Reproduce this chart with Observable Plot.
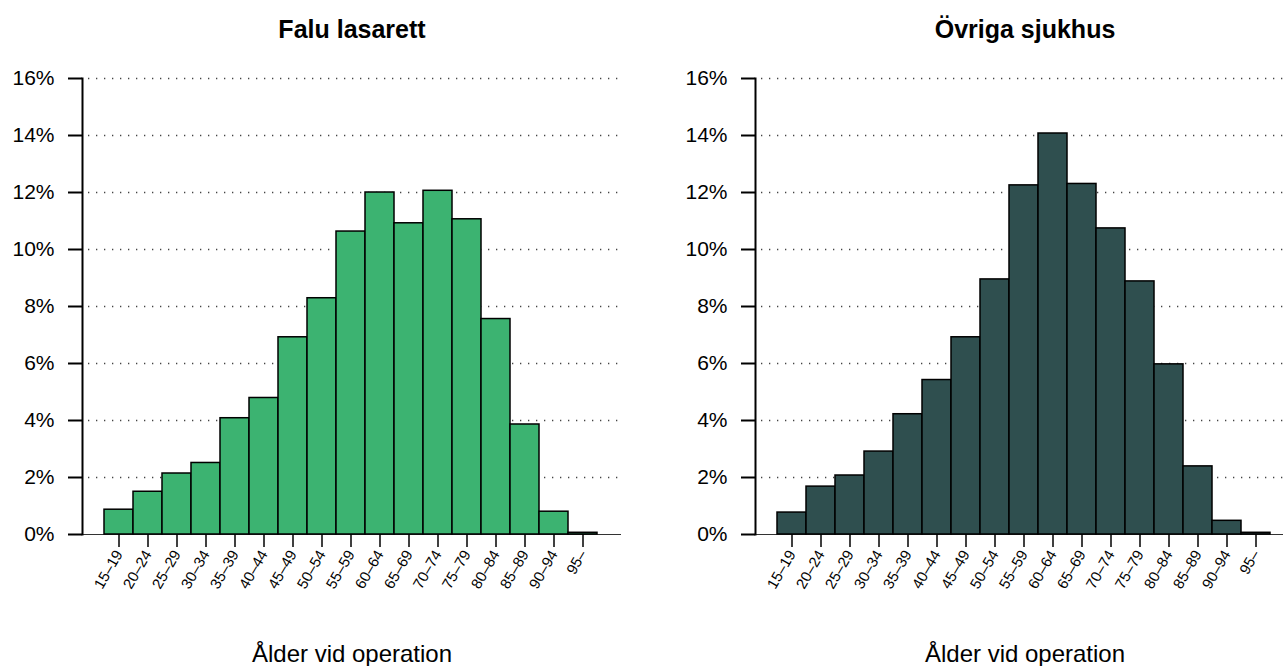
<!DOCTYPE html>
<html><head><meta charset="utf-8">
<script src="https://cdn.jsdelivr.net/npm/d3@7"></script>
<script src="https://cdn.jsdelivr.net/npm/@observablehq/plot@0.6"></script>
<style>
body{margin:0;background:#fff}
#c{position:relative;width:1283px;height:666px;overflow:hidden;background:#fff}
#c > svg{position:absolute;top:0}
</style>
</head><body><div id="c"></div>
<script>
const categories = ["15–19","20–24","25–29","30–34","35–39","40–44","45–49","50–54","55–59","60–64","65–69","70–74","75–79","80–84","85–89","90–94","95–"];
const faluValues = [0.87,1.50,2.14,2.51,4.08,4.79,6.92,8.29,10.63,12.00,10.92,12.06,11.06,7.56,3.86,0.80,0.06];
const ovrigaValues = [0.77,1.68,2.07,2.91,4.22,5.42,6.92,8.95,12.25,14.07,12.30,10.74,8.88,5.97,2.39,0.48,0.06];
const yTicks = [0,2,4,6,8,10,12,14,16];
const panelTitles = ["Falu lasarett","Övriga sjukhus"];
const xLabel = "Ålder vid operation";
const panelColors = ["#3cb371","#2f4f4f"];

function panel(values, title, color) {
  const data = categories.map((c,i)=>({age:c, pct: values[i]}));
  const svg = Plot.plot({
    width: 673, height: 666,
    marginLeft: 82, marginRight: 52, marginTop: 78, marginBottom: 132,
    style: {fontFamily: "'Liberation Sans', Arial, sans-serif", background: "white", overflow: "visible", maxWidth: "none"},
    x: {type: "band", domain: categories, range: [101.7, 600.3], padding: 0},
    y: {domain: [0,16]},
    marks: [
      Plot.ruleY(yTicks.slice(1), {stroke: "#444", strokeWidth: 1.3, strokeDasharray: "1.3,6.7", insetLeft: 6}),
      Plot.ruleY([0], {stroke: "#333", strokeWidth: 1}),
      Plot.barY(data, {x:"age", y:"pct", fill: color, stroke: "#000", strokeWidth: 1.5}),
      Plot.frame({anchor: "left", stroke: "#000", strokeWidth: 2}),
      Plot.axisY({ticks: yTicks, tickFormat: d => d + "%", tickSize: 14, tickPadding: 14, fontSize: 21, strokeWidth: 2, stroke: "#000", fill: "#000", label: null}),
      Plot.axisX({tickSize: 13, tickPadding: 4, tickRotate: -60, textAnchor: "end", lineAnchor: "middle", fontSize: 15, strokeWidth: 1.5, stroke: "#000", fill: "#000", label: null}),
      Plot.text([title], {text: d => d, frameAnchor: "top", dy: -49, fontSize: 25, fontWeight: "bold", lineAnchor: "middle", fill: "#000"}),
      Plot.text([xLabel], {text: d => d, frameAnchor: "bottom", dy: 120, fontSize: 24, lineAnchor: "middle", fill: "#000"})
    ]
  });
  d3.select(svg).selectAll('[aria-label="y-axis tick label"]').attr("font-size", 21);
  d3.select(svg).selectAll('[aria-label="x-axis tick label"]').attr("font-size", 15);
  return svg;
}
const c = document.getElementById("c");
const p1 = panel(faluValues, panelTitles[0], panelColors[0]);
const p2 = panel(ovrigaValues, panelTitles[1], panelColors[1]);
p1.style.left = "0px";
p2.style.left = "673px";
c.appendChild(p1);
c.appendChild(p2);
</script>
</body></html>
